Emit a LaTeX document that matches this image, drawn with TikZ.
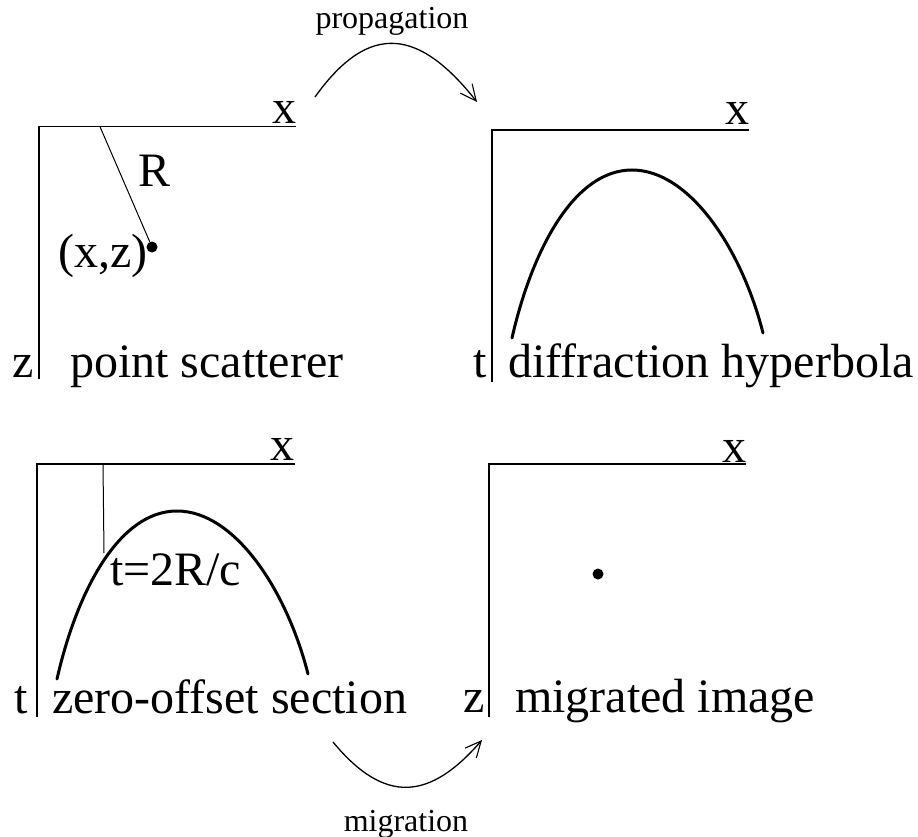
\documentclass[tikz,border=0pt]{standalone}
\usepackage{fontspec}
\setmainfont{Liberation Serif}
\usetikzlibrary{arrows.meta}
\begin{document}
\begin{tikzpicture}[x=1pt,y=-1pt,
  lbl/.style={inner sep=0pt, anchor=base west, font=\fontsize{48}{50}\selectfont},
  small/.style={inner sep=0pt, anchor=base, font=\fontsize{32}{34}\selectfont},
  axis/.style={line width=1.4pt},
  curve/.style={line width=3pt, line cap=round},
  thinline/.style={line width=1pt},
  dotmark/.style={circle, fill=black, inner sep=0pt, minimum size=11pt},
  flow/.style={line width=1.3pt, -{Straight Barb[length=16pt,width=15pt,line width=1.1pt]}}]
\useasboundingbox (0,0) rectangle (918,837);

% ---------- panel 1: point scatterer ----------
\coordinate (o1) at (39,126.7);
\coordinate (h1) at (296,126.7);
\coordinate (v1) at (39,379);
\draw[axis] (h1) -- (o1) -- (v1);
\node[lbl] (x1) at (272,124) {x};
\node[lbl] (z1) at (12,377) {z};
\node[lbl] (n1) at (70,377) {point scatterer};
\coordinate (r1) at (100,126.7);
\node[dotmark] (p1) at (152,247) {};
\draw[thinline] (r1) -- (p1);
\node[lbl] (R1) at (138,187) {R};
\node[lbl] (xz) at (58,267) {(x,z)};

% ---------- panel 2: diffraction hyperbola ----------
\coordinate (o2) at (492,130);
\coordinate (h2) at (749,130);
\coordinate (v2) at (492,382);
\draw[axis] (h2) -- (o2) -- (v2);
\node[lbl] (x2) at (725,125) {x};
\node[lbl] (t2) at (473,377) {t};
\node[lbl] (n2) at (508,377) {diffraction hyperbola};
\begin{scope}[shift={(632,170)}]
\draw[curve] (-120,168) .. controls (-100,80) and (-58,0) .. (0,0)
  .. controls (58,0) and (110,80) .. (131,163);
\end{scope}

% ---------- panel 3: zero-offset section ----------
\coordinate (o3) at (37,464);
\coordinate (h3) at (295,464);
\coordinate (v3) at (37,717);
\draw[axis] (h3) -- (o3) -- (v3);
\node[lbl] (x3) at (270,460) {x};
\node[lbl] (t3) at (14,713) {t};
\node[lbl] (n3) at (52,713) {zero-offset section};
\begin{scope}[shift={(177,511)}]
\draw[curve] (-120,168) .. controls (-100,80) and (-58,0) .. (0,0)
  .. controls (58,0) and (110,80) .. (131,163);
\end{scope}
\coordinate (s3a) at (103,464);
\coordinate (s3b) at (104,553);
\draw[thinline] (s3a) -- (s3b);
\node[lbl] (tr) at (110,585) {t=2R/c};

% ---------- panel 4: migrated image ----------
\coordinate (o4) at (489,464);
\coordinate (h4) at (746,464);
\coordinate (v4) at (489,717);
\draw[axis] (h4) -- (o4) -- (v4);
\node[lbl] (x4) at (722,462) {x};
\node[lbl] (z4) at (463,712) {z};
\node[lbl] (n4) at (515,712) {migrated image};
\node[dotmark] (p4) at (598,574) {};

% ---------- arrows ----------
\coordinate (pa) at (315,97);
\coordinate (pb) at (477,102);
\draw[flow] (pa) .. controls (370,20) and (420,30) .. (pb);
\node[small] (prop) at (392,29) {propagation};

\coordinate (ma) at (333,742);
\coordinate (mb) at (482,740);
\draw[flow] (ma) .. controls (385,805) and (430,800) .. (mb);
\node[small] (migr) at (406,831) {migration};
\end{tikzpicture}
\end{document}
